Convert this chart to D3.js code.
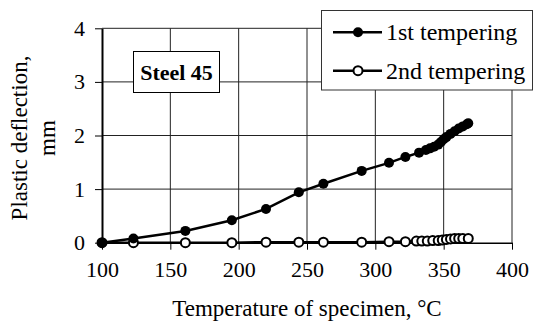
<!DOCTYPE html>
<html>
  <head>
    <meta charset="UTF-8">
    <title>Steel 45 tempering</title>
    <style>
      body {margin: 0; background: #fff}
      svg {display: block}
      text {font-family: "Liberation Serif", "Times New Roman", serif; fill: #000}
      .tick text {font-size: 22px}
      .label {font-size: 23px; text-anchor: middle}
    </style>
  </head>
  <body>
    <div id="chart"></div>
    <script src="https://d3js.org/d3.v7.min.js"></script>
    <script>

// 1st tempering (filled markers)
const temp1 = [100, 123, 161, 195, 220, 244, 262, 290, 310, 322, 332, 337, 340, 343, 346, 348, 350, 352, 355, 358, 361, 364, 367, 368];
const defl1 = [0, 0.08, 0.22, 0.42, 0.63, 0.94, 1.10, 1.34, 1.49, 1.60, 1.68, 1.73, 1.76, 1.79, 1.83, 1.88, 1.93, 1.97, 2.03, 2.08, 2.13, 2.17, 2.21, 2.23];

// 2nd tempering (open markers)
const temp2 = [100, 123, 161, 195, 220, 244, 262, 290, 310, 322, 330, 334, 338, 342, 346, 349, 352, 355, 358, 361, 364, 368];
const defl2 = [0, 0, 0, 0, 0.01, 0.01, 0.01, 0.01, 0.02, 0.02, 0.03, 0.03, 0.03, 0.04, 0.04, 0.05, 0.06, 0.07, 0.08, 0.08, 0.08, 0.08];

const xTicks = [100, 150, 200, 250, 300, 350, 400];
const yTicks = [0, 1, 2, 3, 4];
const seriesNames = ["1st tempering", "2nd tempering"];

const width = 533, height = 325;
const svg = d3.select("#chart").append("svg").attr("width", width).attr("height", height);

const x = d3.scaleLinear().domain([100, 400]).range([102, 512]);
const y = d3.scaleLinear().domain([0, 4]).range([242.7, 28.3]);

// grid
svg.append("g").selectAll("line").data(xTicks.slice(1)).join("line")
  .attr("x1", d => x(d)).attr("x2", d => x(d))
  .attr("y1", y(0)).attr("y2", y(4))
  .attr("stroke", "#222").attr("stroke-width", 1);
svg.append("g").selectAll("line").data(yTicks.slice(1)).join("line")
  .attr("x1", x(100)).attr("x2", x(400))
  .attr("y1", d => y(d)).attr("y2", d => y(d))
  .attr("stroke", "#222").attr("stroke-width", 1);

// axes
const xAxis = svg.append("g")
  .attr("transform", `translate(0,${y(0)})`)
  .call(d3.axisBottom(x).tickValues(xTicks).tickFormat(d3.format("d")).tickSize(7).tickPadding(12).tickSizeOuter(0));
const yAxis = svg.append("g")
  .attr("transform", `translate(${x(100)},0)`)
  .call(d3.axisLeft(y).tickValues(yTicks).tickFormat(d3.format("d")).tickSize(7).tickPadding(10).tickSizeOuter(0));
svg.selectAll(".tick text").attr("font-family", null).attr("font-size", null);
xAxis.attr("font-family", null).attr("font-size", null);
yAxis.attr("font-family", null).attr("font-size", null);
xAxis.select(".domain").attr("stroke", "#000").attr("stroke-width", 1.5);
yAxis.select(".domain").attr("stroke", "#000").attr("stroke-width", 2);
svg.selectAll(".tick line").attr("stroke", "#000");

// series lines
const pts1 = temp1.map((t, i) => [t, defl1[i]]);
const pts2 = temp2.map((t, i) => [t, defl2[i]]);
const line = d3.line().x(d => x(d[0])).y(d => y(d[1]));

svg.append("path").datum(pts2).attr("d", line)
  .attr("fill", "none").attr("stroke", "#000").attr("stroke-width", 2.5);
svg.append("g").selectAll("circle").data(pts2).join("circle")
  .attr("cx", d => x(d[0])).attr("cy", d => y(d[1])).attr("r", 4.5)
  .attr("fill", "#fff").attr("stroke", "#000").attr("stroke-width", 2);

svg.append("path").datum(pts1).attr("d", line)
  .attr("fill", "none").attr("stroke", "#000").attr("stroke-width", 2.5);
svg.append("g").selectAll("circle").data(pts1).join("circle")
  .attr("cx", d => x(d[0])).attr("cy", d => y(d[1])).attr("r", 5)
  .attr("fill", "#000");

// Steel 45 box
svg.append("rect").attr("x", 133.5).attr("y", 51.5).attr("width", 86).attr("height", 41)
  .attr("fill", "#fff").attr("stroke", "#000");
svg.append("text").attr("x", 176.5).attr("y", 79.5).attr("text-anchor", "middle")
  .style("font-size", "22px").style("font-weight", "bold").text("Steel 45");

// legend
const legend = svg.append("g");
legend.append("rect").attr("x", 321.5).attr("y", 10.5).attr("width", 211).attr("height", 79.5)
  .attr("fill", "#fff").attr("stroke", "#333");
const rows = legend.selectAll("g.row").data(seriesNames).join("g")
  .attr("class", "row")
  .attr("transform", (d, i) => `translate(0,${32.3 + i * 38.4})`);
rows.append("line").attr("x1", 333).attr("x2", 382).attr("stroke", "#000").attr("stroke-width", 2.5);
rows.append("circle").attr("cx", 358).attr("r", (d, i) => i ? 4.5 : 5)
  .attr("fill", (d, i) => i ? "#fff" : "#000").attr("stroke", "#000").attr("stroke-width", (d, i) => i ? 2 : 0);
rows.append("text").attr("x", 386).attr("y", 8).style("font-size", "24px").text(d => d);

// axis labels
svg.append("text").attr("class", "label").attr("x", 307).attr("y", 316)
  .text("Temperature of specimen, °C");
svg.append("text").attr("class", "label").attr("transform", "rotate(-90)")
  .attr("x", -138).attr("y", 27).text("Plastic deflection,");
svg.append("text").attr("class", "label").attr("transform", "rotate(-90)")
  .attr("x", -138).attr("y", 55).text("mm");

    </script>
  </body>
</html>
